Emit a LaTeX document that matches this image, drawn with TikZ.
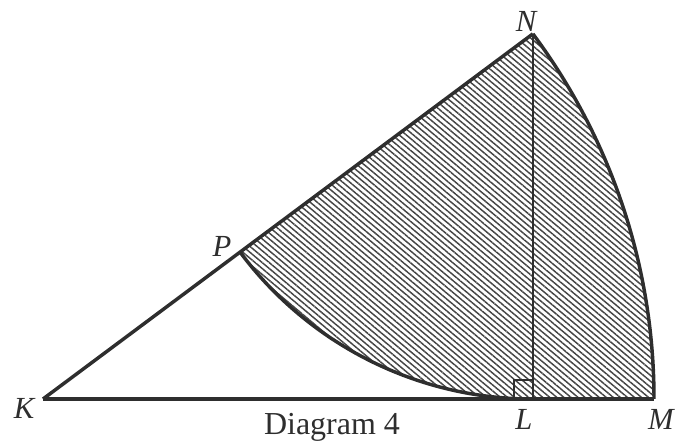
\documentclass[tikz,border=0pt]{standalone}
\usepackage{fontspec}
\setmainfont{Liberation Serif}
\usepackage{tikz}
\usetikzlibrary{calc,patterns.meta}
\definecolor{ink}{HTML}{2E2E2E}
\definecolor{hatch}{HTML}{454545}

\begin{document}
\begin{tikzpicture}[x=0.75pt,y=0.75pt,
  edge/.style={draw=ink,line width=2.6pt,line join=round},
  altline/.style={draw=ink,line width=1.9pt},
  shade/.style={pattern={Lines[angle=-40,distance=3.4pt,line width=1.1pt]},pattern color=hatch},
  lbl/.style={anchor=base,inner sep=0pt,font=\fontsize{23}{26}\selectfont\itshape,text=ink},
  titletext/.style={anchor=base,inner sep=0pt,font=\fontsize{24}{28}\selectfont,text=ink}
]
\useasboundingbox (0,0) rectangle (677,445);
% points
\coordinate (K) at (43,46);
\coordinate (M) at ($(K)+(611,0)$);
\coordinate (N) at ($(K)+(36.7:611)$);
\coordinate (L) at (N |- K);
\coordinate (P) at ($(K)+(36.7:245.8)$);
% shaded sector
\fill[shade] (P) -- (N) arc[start angle=36.7,end angle=0,radius=611]
  -- (L) arc[start angle=270,end angle=216.7,radius=365.2] -- cycle;
% outline
\draw[edge] (K) -- (N);
\draw[edge] (K) -- (M);
\draw[edge] (N) arc[start angle=36.7,end angle=0,radius=611];
\draw[edge] (P) arc[start angle=216.7,end angle=270,radius=365.2];
\draw[altline] (N) -- (L);
\draw[altline] ($(L)+(-19,0)$) |- ($(L)+(0,19)$);
% labels
\node[lbl] (kl) at (24,26) {K};
\node[lbl] (nl) at (526,413) {N};
\node[lbl] (pl) at (222,188) {P};
\node[lbl] (ll) at (524,15) {L};
\node[lbl] (ml) at (661,15) {M};
\node[titletext] (title) at (332,10) {Diagram 4};
\end{tikzpicture}
\end{document}
